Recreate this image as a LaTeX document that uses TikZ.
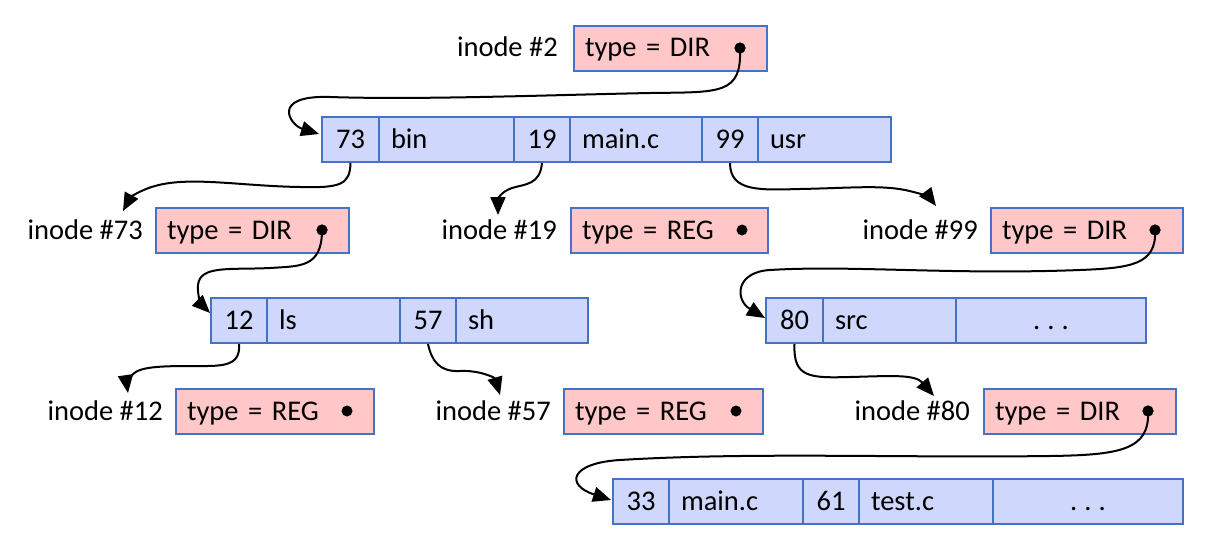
\documentclass[tikz,border=0pt]{standalone}
\usepackage{fontspec}
\setmainfont{Carlito}
\usetikzlibrary{arrows.meta}
\definecolor{bordc}{RGB}{68,114,196}
\definecolor{dirfill}{RGB}{207,216,252}
\definecolor{inofill}{RGB}{255,199,199}
\begin{document}
\begin{tikzpicture}[x=1pt,y=-1pt,
  font=\fontsize{28.5}{30}\selectfont,
  cellbase/.style={draw=bordc, line width=2pt, minimum height=45pt, inner sep=0pt,
                   text height=21pt, text depth=4pt, anchor=west},
  dcell/.style={cellbase, fill=dirfill},
  icell/.style={cellbase, fill=inofill},
  lbl/.style={anchor=east, inner sep=0pt, text height=21pt, text depth=4pt},
  dotn/.style={circle, fill=black, inner sep=0pt, minimum size=11pt},
  conn/.style={draw=black, line width=2pt, -{Triangle[length=18pt,width=15pt]}}]
\useasboundingbox (0,0) rectangle (1216,544);
\newcommand{\dotsx}{.\hspace{7pt}.\hspace{7pt}.}
% ---- inode #2
\node[icell, minimum width=193pt, text width=171pt, align=left] (i2) at (573,48) {type = DIR};
\node[lbl] (l2) at (558,48) {inode \#2};
% ---- dir row 1
\node[dcell, minimum width=57pt] (a73) at (321,139.5) {73};
\node[dcell, minimum width=135pt, text width=111pt, align=left] (nbin) at (378,139.5) {bin};
\node[dcell, minimum width=56pt] (a19) at (513,139.5) {19};
\node[dcell, minimum width=132pt, text width=108pt, align=left] (nmain) at (569,139.5) {main.c};
\node[dcell, minimum width=56pt] (a99) at (701,139.5) {99};
\node[dcell, minimum width=133pt, text width=109pt, align=left] (nusr) at (757,139.5) {usr};
% ---- inode row 2
\node[icell, minimum width=193pt, text width=171pt, align=left] (i73) at (155,230.5) {type = DIR};
\node[lbl] (l73) at (143,230.5) {inode \#73};
\node[icell, minimum width=197pt, text width=175pt, align=left] (i19) at (570,230.5) {type = REG};
\node[lbl] (l19) at (557,230.5) {inode \#19};
\node[icell, minimum width=192pt, text width=170pt, align=left] (i99) at (990,230.5) {type = DIR};
\node[lbl] (l99) at (978,230.5) {inode \#99};
% ---- dir row 2 left
\node[dcell, minimum width=56pt] (a12) at (210,320.5) {12};
\node[dcell, minimum width=133pt, text width=109pt, align=left] (nls) at (266,320.5) {ls};
\node[dcell, minimum width=56pt] (a57) at (399,320.5) {57};
\node[dcell, minimum width=132pt, text width=108pt, align=left] (nsh) at (455,320.5) {sh};
% ---- dir row 2 right
\node[dcell, minimum width=57pt] (a80) at (765,320.5) {80};
\node[dcell, minimum width=133pt, text width=109pt, align=left] (nsrc) at (822,320.5) {src};
\node[dcell, minimum width=190pt] (ndots1) at (955,320.5) {\dotsx};
% ---- inode row 3
\node[icell, minimum width=198pt, text width=176pt, align=left] (i12) at (175,411.5) {type = REG};
\node[lbl] (l12) at (163,411.5) {inode \#12};
\node[icell, minimum width=199pt, text width=177pt, align=left] (i57) at (563,411.5) {type = REG};
\node[lbl] (l57) at (551,411.5) {inode \#57};
\node[icell, minimum width=192pt, text width=170pt, align=left] (i80) at (983,411.5) {type = DIR};
\node[lbl] (l80) at (970,411.5) {inode \#80};
% ---- dir row 3
\node[dcell, minimum width=56pt] (a33) at (612,501.5) {33};
\node[dcell, minimum width=134pt, text width=110pt, align=left] (nmain2) at (668,501.5) {main.c};
\node[dcell, minimum width=56pt] (a61) at (802,501.5) {61};
\node[dcell, minimum width=134pt, text width=110pt, align=left] (ntest) at (858,501.5) {test.c};
\node[dcell, minimum width=190pt] (ndots2) at (992,501.5) {\dotsx};
% ---- dots
\node[dotn] (d2) at (740,48) {};
\node[dotn] (d73) at (322,230) {};
\node[dotn] (d19) at (742,230) {};
\node[dotn] (d99) at (1155,230) {};
\node[dotn] (d12) at (347,411) {};
\node[dotn] (d57) at (736,411) {};
\node[dotn] (d80) at (1148,411) {};
% ---- arrow end points
\coordinate (e73) at (319,134);
\coordinate (t73) at (123,211);
\coordinate (t19) at (498,215);
\coordinate (t99) at (936,206);
\coordinate (e12) at (210,313);
\coordinate (e80) at (765,318);
\coordinate (t12) at (128,393);
\coordinate (t57) at (500,395);
\coordinate (t80) at (934,396);
\coordinate (e33) at (611,500);
% ---- connectors
\draw[conn] (d2.center) .. controls (742,95) and (720,92) .. (650,93)
   .. controls (550,95) and (420,100) .. (330,97)
   .. controls (270,95) and (290,125) .. (e73);
\draw[conn] (a73.south) .. controls (350,185) and (340,188) .. (300,187)
   .. controls (240,186) and (190,176) .. (155,186)
   .. controls (140,190) and (130,198) .. (t73);
\draw[conn] (a19.south) .. controls (540,185) and (525,184) .. (512,188)
   .. controls (500,192) and (498,200) .. (t19);
\draw[conn] (a99.south) .. controls (730,192) and (760,190) .. (800,189)
   .. controls (850,188) and (880,185) .. (905,190)
   .. controls (920,193) and (930,198) .. (t99);
\draw[conn] (d73.center) .. controls (322,268) and (300,266) .. (270,268)
   .. controls (230,270) and (200,265) .. (198,285)
   .. controls (197,298) and (203,306) .. (e12);
\draw[conn] (d99.center) .. controls (1157,265) and (1130,268) .. (1080,270)
   .. controls (950,275) and (850,265) .. (770,270)
   .. controls (735,272) and (735,300) .. (e80);
\draw[conn] (a12.south) .. controls (241,368) and (220,366) .. (190,366)
   .. controls (150,366) and (135,368) .. (130,378)
   .. controls (127,382) and (127,386) .. (t12);
\draw[conn] (a57.south) .. controls (432,362) and (440,372) .. (460,371)
   .. controls (480,370) and (495,378) .. (t57);
\draw[conn] (a80.south) .. controls (793,378) and (810,378) .. (850,377)
   .. controls (890,376) and (915,374) .. (t80);
\draw[conn] (d80.center) .. controls (1150,450) and (1120,455) .. (1050,456)
   .. controls (900,458) and (750,452) .. (620,460)
   .. controls (570,463) and (565,485) .. (e33);
% redraw dots on top
\fill (d2) circle (5.5pt) (d73) circle (5.5pt) (d99) circle (5.5pt) (d80) circle (5.5pt);
\end{tikzpicture}
\end{document}
